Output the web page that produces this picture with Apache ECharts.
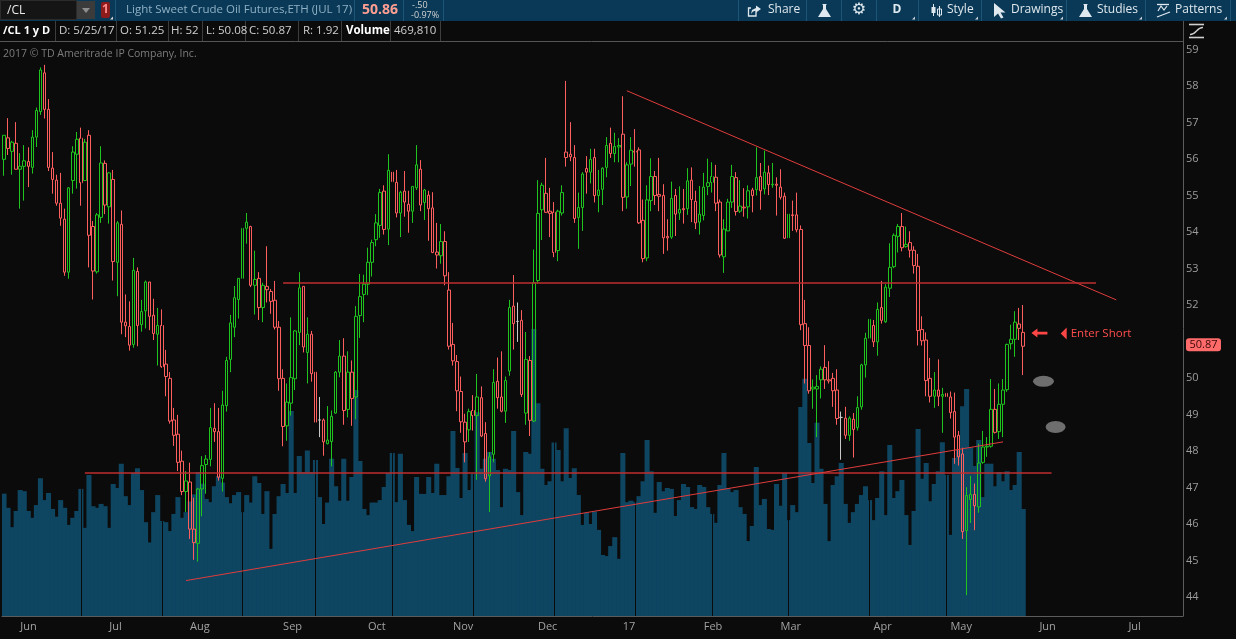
<!DOCTYPE html>
<html><head><meta charset="utf-8">
<script src="https://cdn.jsdelivr.net/npm/echarts@6/dist/echarts.min.js"></script>
<style>html,body{margin:0;padding:0;background:#0b0b0b;overflow:hidden}#c{width:1236px;height:639px}</style>
</head><body><div id="c"></div>
<script>
// ---- data (daily /CL JUL17, 5/25/16 .. 5/25/17) ----
const opens = [55.99,56.58,56.21,56.43,55.72,55.80,55.93,55.77,56.60,57.30,
58.36,57.36,55.75,55.42,54.79,54.35,52.90,55.41,56.13,56.57,
55.41,56.65,54.15,52.91,54.40,55.88,54.69,55.44,53.17,54.21,
51.53,51.41,50.92,52.92,51.46,51.84,52.63,51.72,51.20,51.44,
50.38,49.99,48.85,48.46,47.72,46.89,47.15,45.86,45.47,46.96,
47.63,47.77,48.62,48.53,47.25,49.24,50.51,51.39,52.15,52.73,
54.10,54.15,52.54,52.73,51.93,52.51,52.37,52.13,51.39,49.99,
48.69,49.31,49.98,51.25,52.51,50.70,51.20,50.16,48.85,48.85,
48.20,48.26,49.04,50.16,50.60,49.14,50.16,49.48,51.71,52.29,
52.57,53.17,53.79,54.18,55.12,54.08,55.64,55.36,54.52,55.12,
54.76,54.57,55.21,55.72,54.81,55.01,54.66,53.45,53.35,53.74,
52.41,50.92,50.45,49.63,48.79,48.58,49.11,48.97,49.46,48.48,
47.32,47.91,49.91,49.48,49.09,50.19,51.97,51.55,51.58,49.04,
50.48,48.82,52.67,54.61,55.06,54.57,54.54,53.49,54.52,56.19,
56.13,56.04,54.40,54.67,55.74,55.64,56.04,55.00,55.17,55.77,
56.43,56.15,56.33,56.68,54.96,55.86,56.21,56.25,54.32,53.29,
54.86,55.52,55.03,55.00,53.88,53.86,55.00,54.52,54.64,54.64,
55.42,54.84,54.27,54.45,55.25,55.36,55.50,54.82,53.32,54.03,
54.82,55.49,54.57,54.68,54.69,55.15,55.16,55.52,55.18,55.62,
55.29,55.31,55.23,54.98,53.84,54.47,54.47,54.07,51.49,50.89,
49.70,49.70,49.95,50.29,49.95,49.99,49.67,48.92,48.90,48.43,
48.87,48.64,49.21,50.36,51.09,51.44,50.99,51.93,51.54,52.46,
53.05,53.88,54.15,53.60,53.71,53.50,53.06,51.33,51.04,49.99,
49.50,49.67,49.50,49.58,49.48,49.08,48.43,47.92,45.82,46.67,
46.81,46.47,47.69,48.11,48.13,49.14,48.53,49.28,49.68,50.94,
51.06,51.48,51.25];
const highs = [56.65,57.12,56.50,57.01,56.16,56.38,56.32,56.79,57.41,58.51,
58.58,57.64,56.19,55.57,55.62,54.64,55.23,56.35,56.74,56.86,
56.55,56.79,54.30,54.52,56.35,55.96,55.64,55.70,54.30,54.59,
52.29,52.10,53.29,53.03,52.14,52.67,52.63,52.17,51.92,51.88,
50.77,50.16,49.18,48.99,48.01,47.45,47.68,46.72,46.99,47.86,
47.89,49.18,49.31,49.18,49.65,50.58,51.73,52.52,52.73,54.19,
54.52,54.17,53.49,52.90,52.61,53.61,52.44,52.66,51.56,50.24,
49.85,51.66,51.31,52.90,52.51,51.66,51.29,50.48,49.48,48.89,
49.23,49.11,50.19,51.04,51.09,50.73,50.48,51.97,52.85,52.83,
53.57,53.79,54.49,55.18,55.28,56.13,56.08,55.70,55.13,55.67,
55.13,55.25,56.38,55.97,55.18,55.13,55.09,54.25,54.22,54.02,
52.90,51.51,50.63,50.04,49.02,49.16,49.53,50.11,49.77,48.79,
47.97,50.24,50.56,50.73,50.04,52.14,52.82,52.07,51.86,51.26,
50.60,53.52,55.42,55.35,56.03,55.21,54.82,54.61,55.28,58.14,
57.01,56.38,55.08,55.64,56.08,56.28,56.28,55.70,55.77,56.60,
56.86,56.72,56.57,57.72,55.91,56.60,56.82,56.32,54.89,55.28,
56.02,55.67,56.03,55.31,54.35,55.38,55.18,55.25,55.18,55.75,
55.77,55.13,55.26,55.62,56.01,55.91,55.84,54.89,54.35,54.91,
55.84,55.64,55.42,55.20,55.28,55.21,56.32,55.89,56.23,55.82,
55.89,55.50,55.72,55.08,54.67,54.86,55.08,54.18,52.14,51.39,
49.96,50.08,50.32,50.90,50.46,50.14,50.24,49.08,49.21,48.95,
49.04,49.50,50.39,51.24,51.61,51.59,52.07,52.66,52.57,53.69,
53.96,54.22,54.52,54.15,54.02,53.61,53.40,51.69,51.25,50.55,
50.16,50.51,49.73,50.07,49.63,49.60,48.55,48.09,47.01,47.32,
47.11,48.20,48.55,48.38,49.97,49.70,49.85,49.97,50.94,51.46,
51.83,51.92,52.00];
const lows = [55.54,56.11,55.57,55.72,54.64,54.86,55.23,55.60,56.33,57.21,
57.11,55.67,55.05,54.72,54.17,52.80,52.72,55.05,55.19,54.72,
55.41,53.03,52.15,52.86,54.25,54.49,54.23,52.67,52.24,51.20,
51.12,50.75,50.83,50.87,51.27,51.36,51.31,51.04,50.34,50.28,
49.50,48.75,48.14,47.45,46.79,46.33,45.59,45.02,44.97,46.21,
46.83,47.58,48.25,47.19,46.89,49.08,50.16,51.12,51.63,52.42,
53.68,52.49,51.74,51.59,51.53,52.07,51.76,51.33,49.65,48.13,
48.28,48.97,49.67,50.90,50.70,49.85,49.90,48.56,48.38,47.87,
48.18,47.58,49.02,50.02,48.72,48.92,48.69,48.87,51.10,51.53,
52.27,52.78,53.61,53.84,53.93,53.64,54.91,54.40,53.86,54.42,
53.98,54.25,55.15,54.57,54.33,53.76,53.42,53.00,53.13,52.54,
50.78,50.34,49.09,48.50,47.69,48.25,48.56,47.21,48.38,47.16,
46.33,47.69,49.16,49.06,48.77,50.06,50.78,50.99,49.48,48.72,
48.41,48.79,52.59,53.78,54.52,53.86,53.31,53.20,54.45,55.79,
55.94,54.25,53.54,54.03,55.05,55.33,54.81,54.54,54.74,55.50,
56.03,55.91,55.91,54.57,54.64,55.26,55.79,54.22,53.17,53.20,
54.57,54.74,54.57,53.40,53.49,53.81,53.89,54.33,54.23,54.47,
54.27,54.08,53.93,54.32,55.01,55.08,54.57,53.30,52.88,54.03,
54.66,54.45,54.52,54.42,54.37,54.54,55.00,54.61,55.03,55.01,
55.21,54.45,54.89,53.81,53.81,54.03,53.99,51.31,49.85,49.57,
49.16,48.38,49.44,49.70,49.85,49.21,48.72,47.76,48.33,48.28,
47.82,48.56,49.13,50.01,50.65,50.85,50.61,51.49,51.51,52.22,
53.01,53.44,53.47,53.57,53.30,52.86,50.89,50.89,49.50,49.33,
49.18,49.23,48.50,49.08,48.89,47.65,47.60,45.59,44.05,46.03,
45.83,46.31,47.65,47.84,48.09,48.48,48.33,48.38,49.62,50.78,
50.58,51.04,50.08];
const closes = [56.65,56.29,56.46,55.72,55.80,55.95,55.80,56.60,57.33,58.44,
57.36,55.77,55.44,54.79,54.38,52.90,55.21,56.19,56.54,55.35,
56.46,53.91,52.93,54.47,55.89,54.74,55.62,53.19,54.25,51.53,
51.43,50.90,52.95,51.44,51.82,52.63,51.69,51.22,51.44,50.31,
50.04,48.82,48.43,47.69,46.89,47.18,45.86,45.49,46.96,47.60,
47.78,48.64,48.53,47.28,49.26,50.48,51.51,52.20,52.73,54.10,
54.27,52.54,52.70,51.93,52.54,52.42,52.10,51.39,49.98,48.67,
49.34,50.01,51.29,52.47,50.85,51.20,50.12,48.79,48.85,48.25,
48.30,48.95,50.16,50.60,49.11,50.16,49.44,51.69,52.23,52.57,
53.17,53.71,54.25,55.08,54.07,55.69,55.38,54.52,55.09,54.82,
54.57,55.25,55.84,54.74,55.15,54.64,53.44,53.37,53.74,52.80,
50.87,50.47,49.65,48.80,48.25,49.08,48.97,49.48,48.41,47.24,
47.84,49.88,49.46,49.09,49.93,51.93,51.49,51.55,49.55,50.51,
48.84,52.61,54.51,55.28,54.54,54.51,53.44,54.57,55.08,56.04,
56.06,54.37,54.67,55.59,55.64,55.99,55.00,55.15,55.75,56.37,
56.15,56.34,56.37,54.95,55.84,56.24,56.19,54.25,53.27,54.88,
55.52,55.00,54.98,53.84,53.84,54.92,54.49,54.62,54.61,55.40,
54.89,54.25,54.49,55.23,55.35,55.52,54.79,53.37,54.08,54.82,
55.52,54.56,54.71,54.66,55.13,55.00,55.49,55.13,55.64,55.30,
55.31,55.28,54.95,53.83,54.49,54.45,54.06,51.46,50.89,49.65,
49.75,49.77,50.24,49.95,49.92,49.65,48.89,48.92,48.43,48.90,
48.59,49.19,50.36,51.09,51.61,50.99,51.88,51.58,52.49,53.03,
53.91,54.15,53.57,53.66,53.50,53.08,51.30,51.02,49.93,49.50,
49.67,49.50,49.55,49.49,49.05,48.38,47.84,45.79,46.78,46.81,
46.50,47.67,48.11,48.13,49.14,48.51,49.28,49.67,50.92,51.06,
51.53,51.36,50.87];
// volume in thousands of contracts
const volumes = [537,475,390,461,553,548,461,431,487,605,
509,540,470,436,509,475,400,431,461,558,
387,619,482,475,492,482,387,580,562,668,
526,487,628,649,553,412,323,456,531,417,
412,373,448,522,431,456,503,534,632,581,
514,500,570,613,586,522,495,531,544,456,
531,498,613,584,448,548,295,448,526,580,
540,900,540,702,632,726,632,685,522,404,
498,690,570,506,690,506,610,992,680,470,
443,498,498,509,566,628,716,500,712,509,
400,373,610,536,536,610,540,668,531,531,
614,812,650,518,716,553,624,895,646,690,
720,690,641,478,646,641,812,544,443,720,
712,1260,934,646,575,592,762,729,592,824,
606,649,531,400,453,404,459,378,268,263,
307,346,251,716,500,506,500,526,592,773,
636,453,588,548,562,558,439,509,580,566,
478,470,575,566,478,448,409,575,716,562,
544,553,478,448,329,395,654,487,514,382,
378,580,484,628,421,487,456,917,1041,760,
584,848,646,492,329,575,614,672,492,409,
456,492,531,570,509,421,518,636,443,751,
518,548,597,443,312,461,821,602,672,504,
580,636,763,619,356,694,729,921,997,740,
658,773,522,668,668,570,632,592,636,553,
575,720,469.81];
const flatCandles = [78, 127, 207];           // unchanged (grey) bars, 0-based
const totalSlots = 292;                          // trading-day slots incl. empty future area
const monthTicks = [[4,'Jun'],[26,'Jul'],[46,'Aug'],[69,'Sep'],[90,'Oct'],[111,'Nov'],[132,'Dec'],
  [153,'17'],[173,'Feb'],[192,'Mar'],[215,'Apr'],[234,'May'],[256,'Jun'],[278,'Jul']];
const priceMin = 43, priceMax = 60, priceStep = 1, priceLabelLo = 44, priceLabelHi = 59;
const lastPrice = 50.87;
// drawings: [x index, price]
const resistanceDown = [[153.8, 57.87], [274.8, 52.14]];
const upperLevel = [[69.2, 52.61], [269.5, 52.61]];
const lowerLevel = [[19.5, 47.41], [258.8, 47.41]];
const supportUp = [[45.1, 44.45], [246.9, 48.25]];
const arrowAt = [256.1, 51.23];
const enterShortAt = [262.3, 51.22];
const dots = [[256.9, 49.91], [260.3, 48.66]];
const volumeGaps = [18.8, 38.8, 58.8, 77.4, 96.4, 116.4, 135.5, 155.5, 174.5, 193.6, 213.6, 232.6];

// ---- build ----
const cats = Array.from({length: totalSlots}, (_, i) => String(i));
const monthMap = {}; monthTicks.forEach(([i, l]) => monthMap[i] = l);
const candleData = opens.map((o, i) => {
  const v = [o, closes[i], lows[i], highs[i]];
  return flatCandles.includes(i) ? {value: v, itemStyle: {borderColor: '#c8c8c8', borderColor0: '#c8c8c8'}} : v;
});
const UP = '#1fc41f', DN = '#ff5e5e';
const FONT = '"Open Sans", "Noto Sans", sans-serif';
const volMax = 575 * 4.39;

const G = [];
function R(x,y,w,h,fill,stroke,r){G.push({type:'rect',z:99,silent:true,shape:{x,y,width:w,height:h,r:r||0},style:{fill,stroke:stroke||null,lineWidth:1}});}
function L(x1,y1,x2,y2,stroke,w){G.push({type:'line',z:100,silent:true,shape:{x1,y1,x2,y2},style:{stroke,lineWidth:w||1}});}
function T(x,y,text,fill,font,align){G.push({type:'text',z:101,silent:true,x,y,style:{text,fill,font,textAlign:align||'left',textVerticalAlign:'middle'}});}
function P(points,fill){G.push({type:'polygon',z:101,silent:true,shape:{points},style:{fill}});}
function PL(points,stroke,w){G.push({type:'polyline',z:101,silent:true,shape:{points},style:{stroke,lineWidth:w||1,fill:null}});}

// top toolbar
R(0,0,1236,21,'#0a3957');
R(0.5,0.5,76,19,'#151515','#2b2b2b');
T(7,10.5,'/CL','#ececec','12px '+FONT);
R(77,1,18,18,'#3b3b3b');
P([[82,8],[90,8],[86,13]],'#8e8e8e');
R(101,2,9,16,'#8c1b1b',null,2);
T(105.5,10,'1','#ff8d8d','bold 12px '+FONT,'center');
P([[110,19.5],[113,16.5],[113,19.5]],'#d8d8d8');
[115.5,354.5,403.5,443.5,738.5,806.5,841.5,876.5,918.5,981.5,1066.5,1145.5,1230.5].forEach(x=>L(x,0,x,21,'#1d5577'));
T(126,10,'Light Sweet Crude Oil Futures,ETH (JUL 17)','#8fb0c5','11.5px '+FONT);
T(362,10.5,'50.86','#ff9f92','bold 14px '+FONT);
T(412,5.5,'-.50','#d2d2d2','9px '+FONT);
T(411,15,'-0.97%','#d2d2d2','9px '+FONT);
const TB = '#dfe8ee';
PL([[756,10],[756,16],[748.5,16],[748.5,8],[751,8]],TB,1.3);
P([[751,14],[752,10],[756,8],[756,5.5],[761,9],[756,12.5],[756,10.5],[753,11.5]],TB);
T(768,10,'Share',TB,'12px '+FONT);
P([[822,4],[827,4],[826,5],[826,9],[831,17],[818,17],[823,9],[823,5]],TB);
T(859,10,'\u2699',TB,'16px "DejaVu Sans"','center');
T(897,10,'D',TB,'bold 12px '+FONT,'center');
L(933.5,4,933.5,16,TB,1); R(931.5,7,4,6,TB); L(939.5,6,939.5,17,TB,1); R(937.5,9,4,6,'#0a3957',TB);
T(947,10,'Style',TB,'12px '+FONT);
P([[994,3],[994,17],[998,13.5],[1001,18.5],[1003.5,17.5],[1000.5,12.5],[1005.5,12.5]],TB);
T(1011,10,'Drawings',TB,'12px '+FONT);
P([[1083,4],[1088,4],[1087,5],[1087,9],[1092,17],[1079,17],[1084,9],[1084,5]],TB);
T(1097,10,'Studies',TB,'12px '+FONT);
L(1157,4.5,1169,4.5,TB,1.3);
PL([[1158,11],[1161,6],[1164,10],[1167,6]],TB,1.2);
L(1157,17,1170,12,TB,1.3);
T(1175,10,'Patterns',TB,'12px '+FONT);
[915,978,1063,1142,1227].forEach(x=>P([[x-3,19.5],[x,16.5],[x,19.5]],'#c9d3d9'));

// info row
[55.5,116.5,168.5,202.5,245.5,298.5,341.5,390.5,440.5].forEach(x=>L(x,21,x,41,'#3d3d3d'));
L(0,41.5,1183,41.5,'#555555');
L(1183.5,21,1183.5,41,'#555555');
T(3,31,'/CL 1 y D','#ffffff','bold 11px '+FONT);
[[59,'D: 5/25/17'],[120,'O: 51.25'],[171,'H: 52'],[206,'L: 50.08'],[249,'C: 50.87'],[303,'R: 1.92'],[394,'469,810']]
  .forEach(([x,t])=>T(x,31,t,'#cfcfcf','11.5px '+FONT));
T(346,31,'Volume','#ffffff','bold 11.5px '+FONT);
L(1189,24.5,1204,24.5,'#d0d0d0',1.6);
L(1189,37.5,1204,37.5,'#d0d0d0',1.6);
G.push({type:'bezierCurve',z:101,silent:true,shape:{x1:1190,y1:34.5,x2:1203,y2:27.5,cpx1:1196,cpy1:35,cpx2:1197,cpy2:27},style:{stroke:'#d0d0d0',lineWidth:1.3,fill:null}});
T(3,54,'2017 \u00a9 TD Ameritrade IP Company, Inc.','#7c7c7c','10.5px '+FONT);

const seg = (pts, color, width) => [
  {coord: pts[0], lineStyle: {color, width, type: 'solid'}}, {coord: pts[1]}];
const ellipse = 'path://M0,5a10,5 0 1,0 20,0a10,5 0 1,0 -20,0z';

const option = {
  animation: false,
  backgroundColor: '#0b0b0b',
  grid: [
    {left: 2, right: 53, top: 13, bottom: 5.5},
    {left: 2, right: 53, top: 41, bottom: 23}
  ],
  xAxis: [
    {type: 'category', gridIndex: 0, data: cats, boundaryGap: true, show: false},
    {type: 'category', gridIndex: 1, data: cats, boundaryGap: true,
      axisLine: {lineStyle: {color: '#5c5c5c'}}, axisTick: {show: false}, splitLine: {show: false},
      axisLabel: {interval: (i) => monthMap[i] !== undefined, formatter: (v, i) => monthMap[i] || '',
        align: 'left', color: '#a2a2a2', fontSize: 11, fontFamily: FONT, margin: 5}}
  ],
  yAxis: [
    {type: 'value', gridIndex: 0, position: 'right', min: priceMin, max: priceMax, interval: priceStep,
      axisLine: {show: false}, axisTick: {show: false}, splitLine: {show: false},
      axisLabel: {color: '#9c9c9c', fontSize: 11, fontFamily: FONT, margin: 3,
        formatter: (v) => (v < priceLabelLo || v > priceLabelHi || Math.abs(v - lastPrice) < 0.4) ? '' : String(v)}},
    {type: 'value', gridIndex: 1, position: 'right', min: 0, max: volMax,
      axisLine: {show: true, lineStyle: {color: '#5c5c5c'}}, axisTick: {show: false},
      axisLabel: {show: false}, splitLine: {show: false}}
  ],
  graphic: {elements: G},
  series: [
    {type: 'bar', name: 'Volume', xAxisIndex: 1, yAxisIndex: 1, data: volumes, barWidth: '125%',
      itemStyle: {color: '#0e4561'}, z: 1, silent: true,
      markLine: {silent: true, symbol: ['none', 'none'], label: {show: false},
        lineStyle: {color: '#0b0b0b', width: 1, type: 'solid'},
        data: volumeGaps.map(v => ({xAxis: v}))}},
    {type: 'candlestick', name: '/CL', xAxisIndex: 0, yAxisIndex: 0, data: candleData, barWidth: 3, z: 3,
      silent: true,
      itemStyle: {color: 'transparent', color0: 'transparent', borderColor: UP, borderColor0: DN, borderWidth: 1},
      markLine: {silent: true, symbol: ['none', 'none'], label: {show: false}, z: 5,
        data: [
          seg(resistanceDown, '#e03c3c', 1),
          seg(upperLevel, '#bf2f2f', 1.6),
          seg(lowerLevel, '#bf2f2f', 1.6),
          seg(supportUp, '#e03c3c', 1)
        ]},
      markPoint: {silent: true, z: 6, label: {show: false},
        data: [
          {coord: arrowAt, symbol: 'path://M0,5L6,0L6,3.5L16,3.5L16,6.5L6,6.5L6,10Z', symbolSize: [16, 9],
            itemStyle: {color: '#ff4646'}},
          {coord: enterShortAt, symbol: 'path://M0,6L6,0L6,12Z', symbolSize: [6, 12],
            itemStyle: {color: '#ff4646'},
            label: {show: true, position: 'right', distance: 4, formatter: 'Enter Short',
              color: '#ff4d4d', fontSize: 11.5, fontFamily: FONT}},
          {coord: dots[0], symbol: ellipse, symbolSize: [21, 11], itemStyle: {color: '#6e6e6e'}},
          {coord: dots[1], symbol: ellipse, symbolSize: [20, 12], itemStyle: {color: '#6e6e6e'}}
        ]}}
  ]
};
const chart = echarts.init(document.getElementById('c'));
chart.setOption(option);
// last-price tag on the price axis, positioned through the axis scale
const tagY = chart.convertToPixel({yAxisIndex: 0}, lastPrice);
const axisX = chart.convertToPixel({xAxisIndex: 0}, String(totalSlots - 1)) + 2;
chart.setOption({graphic: {elements: [
  {id: 'lastTagBox', type: 'rect', z: 102, silent: true,
    shape: {x: axisX + 3, y: tagY - 8, width: 35, height: 13, r: 3}, style: {fill: '#ff6b6b'}},
  {id: 'lastTagText', type: 'text', z: 103, silent: true, x: axisX + 20.5, y: tagY - 1.5,
    style: {text: lastPrice.toFixed(2), fill: '#3a0808', font: '11px ' + FONT, textAlign: 'center', textVerticalAlign: 'middle'}}
]}});
</script>
</body></html>
